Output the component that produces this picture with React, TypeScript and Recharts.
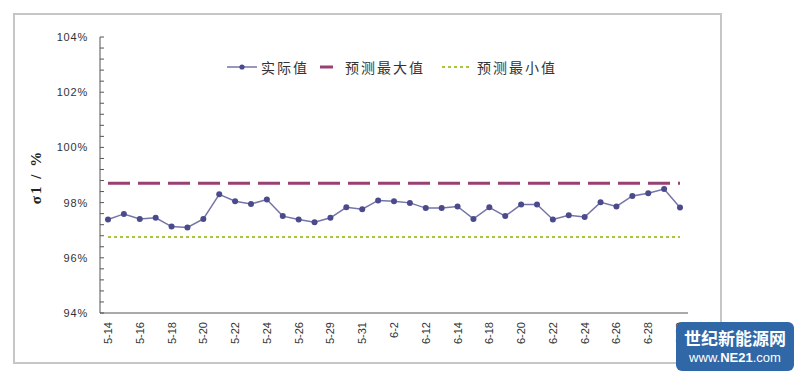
import { LineChart, Line, XAxis, YAxis } from "recharts";

const CATEGORIES = [
  "5-14", "5-15", "5-16", "5-17", "5-18", "5-19", "5-20", "5-21", "5-22", "5-23",
  "5-24", "5-25", "5-26", "5-28", "5-29", "5-30", "5-31", "6-1", "6-2", "6-11",
  "6-12", "6-13", "6-14", "6-16", "6-18", "6-19", "6-20", "6-21", "6-22", "6-23",
  "6-24", "6-25", "6-26", "6-27", "6-28", "6-29", "6-30",
];

// 实际值 (%)
const ACTUAL = [
  97.39, 97.59, 97.41, 97.45, 97.13, 97.1, 97.41, 98.3, 98.05, 97.95,
  98.11, 97.51, 97.39, 97.29, 97.45, 97.83, 97.76, 98.08, 98.05, 97.99,
  97.8, 97.8, 97.86, 97.41, 97.83, 97.51, 97.93, 97.93, 97.39, 97.54,
  97.48, 98.01, 97.86, 98.24, 98.34, 98.49, 97.82,
];

const PRED_MAX = 98.7; // 预测最大值
const PRED_MIN = 96.75; // 预测最小值

const Y_MAJOR = [94, 96, 98, 100, 102, 104];
const Y_TICKS = Array.from({ length: 26 }, (_, i) => 94 + i * 0.4);

const data = CATEGORIES.map((name, i) => ({
  name,
  actual: ACTUAL[i],
  max: PRED_MAX,
  min: PRED_MIN,
}));

const LINE_COLOR = "#7474a8";
const DOT_COLOR = "#4a4a8c";
const MAX_COLOR = "#9a3f72";
const MIN_COLOR = "#a6c73c";
const AXIS_COLOR = "#555";
const numFont = '"Liberation Sans", Arial, sans-serif';
const cjkFont = '"Noto Sans CJK SC", sans-serif';

function YTick({ x, y, payload }: any) {
  const v = payload.value;
  const major = Y_MAJOR.some((m) => Math.abs(m - v) < 1e-6);
  return (
    <g>
      <line x1={x} x2={x + 4} y1={y} y2={y} stroke={AXIS_COLOR} />
      {major && (
        <text
          x={x - 12}
          y={y}
          dy={4}
          textAnchor="end"
          fontFamily={numFont}
          fontSize={11}
          letterSpacing={0.8}
          fill="#333"
        >
          {Math.round(v)}%
        </text>
      )}
    </g>
  );
}

function XTick({ x, y, payload }: any) {
  return (
    <text
      transform={`translate(${x},${y + 9}) rotate(-90)`}
      dy={4}
      textAnchor="end"
      fontFamily={numFont}
      fontSize={11}
      fill="#333"
    >
      {payload.value}
    </text>
  );
}

function ChartLegend() {
  const text = {
    position: "absolute" as const,
    top: 0,
    fontFamily: cjkFont,
    fontSize: 14,
    letterSpacing: 2,
    color: "#333",
    lineHeight: "18px",
  };
  return (
    <div style={{ position: "absolute", left: 0, top: 58, width: 800, height: 18 }}>
      <svg style={{ position: "absolute", left: 0, top: 0 }} width={800} height={18}>
        <line x1={227} x2={257} y1={9} y2={9} stroke={LINE_COLOR} strokeWidth={1.5} />
        <circle cx={242} cy={9} r={2.6} fill={DOT_COLOR} />
        <line x1={320} x2={333} y1={9} y2={9} stroke={MAX_COLOR} strokeWidth={3} />
        <line x1={442} x2={469} y1={9} y2={9} stroke={MIN_COLOR} strokeWidth={2} strokeDasharray="3 3" />
      </svg>
      <span style={{ ...text, left: 261 }}>实际值</span>
      <span style={{ ...text, left: 345 }}>预测最大值</span>
      <span style={{ ...text, left: 477 }}>预测最小值</span>
    </div>
  );
}

export default function App() {
  return (
    <div style={{ position: "absolute", left: 0, top: 0, width: 800, height: 377, background: "#fff", overflow: "hidden" }}>
      <div
        style={{
          position: "absolute",
          left: 13,
          top: 13,
          width: 709,
          height: 351,
          border: "2px solid #c6c6c6",
          boxSizing: "border-box",
        }}
      />
      <div
        style={{
          position: "absolute",
          left: 36,
          top: 177,
          transform: "translate(-50%, -50%) rotate(-90deg)",
          fontFamily: '"Liberation Serif", serif',
          fontWeight: "bold",
          fontSize: 15,
          letterSpacing: 2,
          whiteSpace: "nowrap",
          color: "#222",
        }}
      >
        σ1 / %
      </div>
      <div style={{ position: "absolute", left: 0, top: 0 }}>
        <LineChart width={800} height={377} data={data} margin={{ top: 37, right: 112, left: 40, bottom: 14 }}>
          <XAxis
            dataKey="name"
            interval={1}
            height={50}
            padding={{ left: 8, right: 8 }}
            tickLine={false}
            tickSize={0}
            tickMargin={0}
            stroke={AXIS_COLOR}
            tick={<XTick />}
          />
          <YAxis
            domain={[94, 104]}
            ticks={Y_TICKS}
            width={60}
            tickLine={false}
            tickSize={0}
            tickMargin={0}
            stroke={AXIS_COLOR}
            tick={<YTick />}
            interval={0}
          />
          <Line
            dataKey="max"
            name="预测最大值"
            stroke={MAX_COLOR}
            strokeWidth={3}
            strokeDasharray="22 8"
            dot={false}
            isAnimationActive={false}
          />
          <Line
            dataKey="min"
            name="预测最小值"
            stroke={MIN_COLOR}
            strokeWidth={2}
            strokeDasharray="3 3"
            dot={false}
            isAnimationActive={false}
          />
          <Line
            dataKey="actual"
            name="实际值"
            stroke={LINE_COLOR}
            strokeWidth={1.5}
            dot={{ r: 3, fill: DOT_COLOR, stroke: "none" }}
            isAnimationActive={false}
          />
        </LineChart>
      </div>
      <ChartLegend />
      <div
        style={{
          position: "absolute",
          left: 676,
          top: 322,
          width: 118,
          height: 49,
          background: "#2f67a7",
          borderRadius: 6,
          color: "#fff",
          textAlign: "center",
        }}
      >
        <div style={{ fontFamily: cjkFont, fontWeight: "bold", fontSize: 17, lineHeight: "20px", marginTop: 6 }}>
          世纪新能源网
        </div>
        <div style={{ fontFamily: '"Liberation Sans", Arial, sans-serif', fontSize: 13, lineHeight: "16px", marginTop: 2 }}>
          www.<b>NE21</b>.com
        </div>
      </div>
    </div>
  );
}
